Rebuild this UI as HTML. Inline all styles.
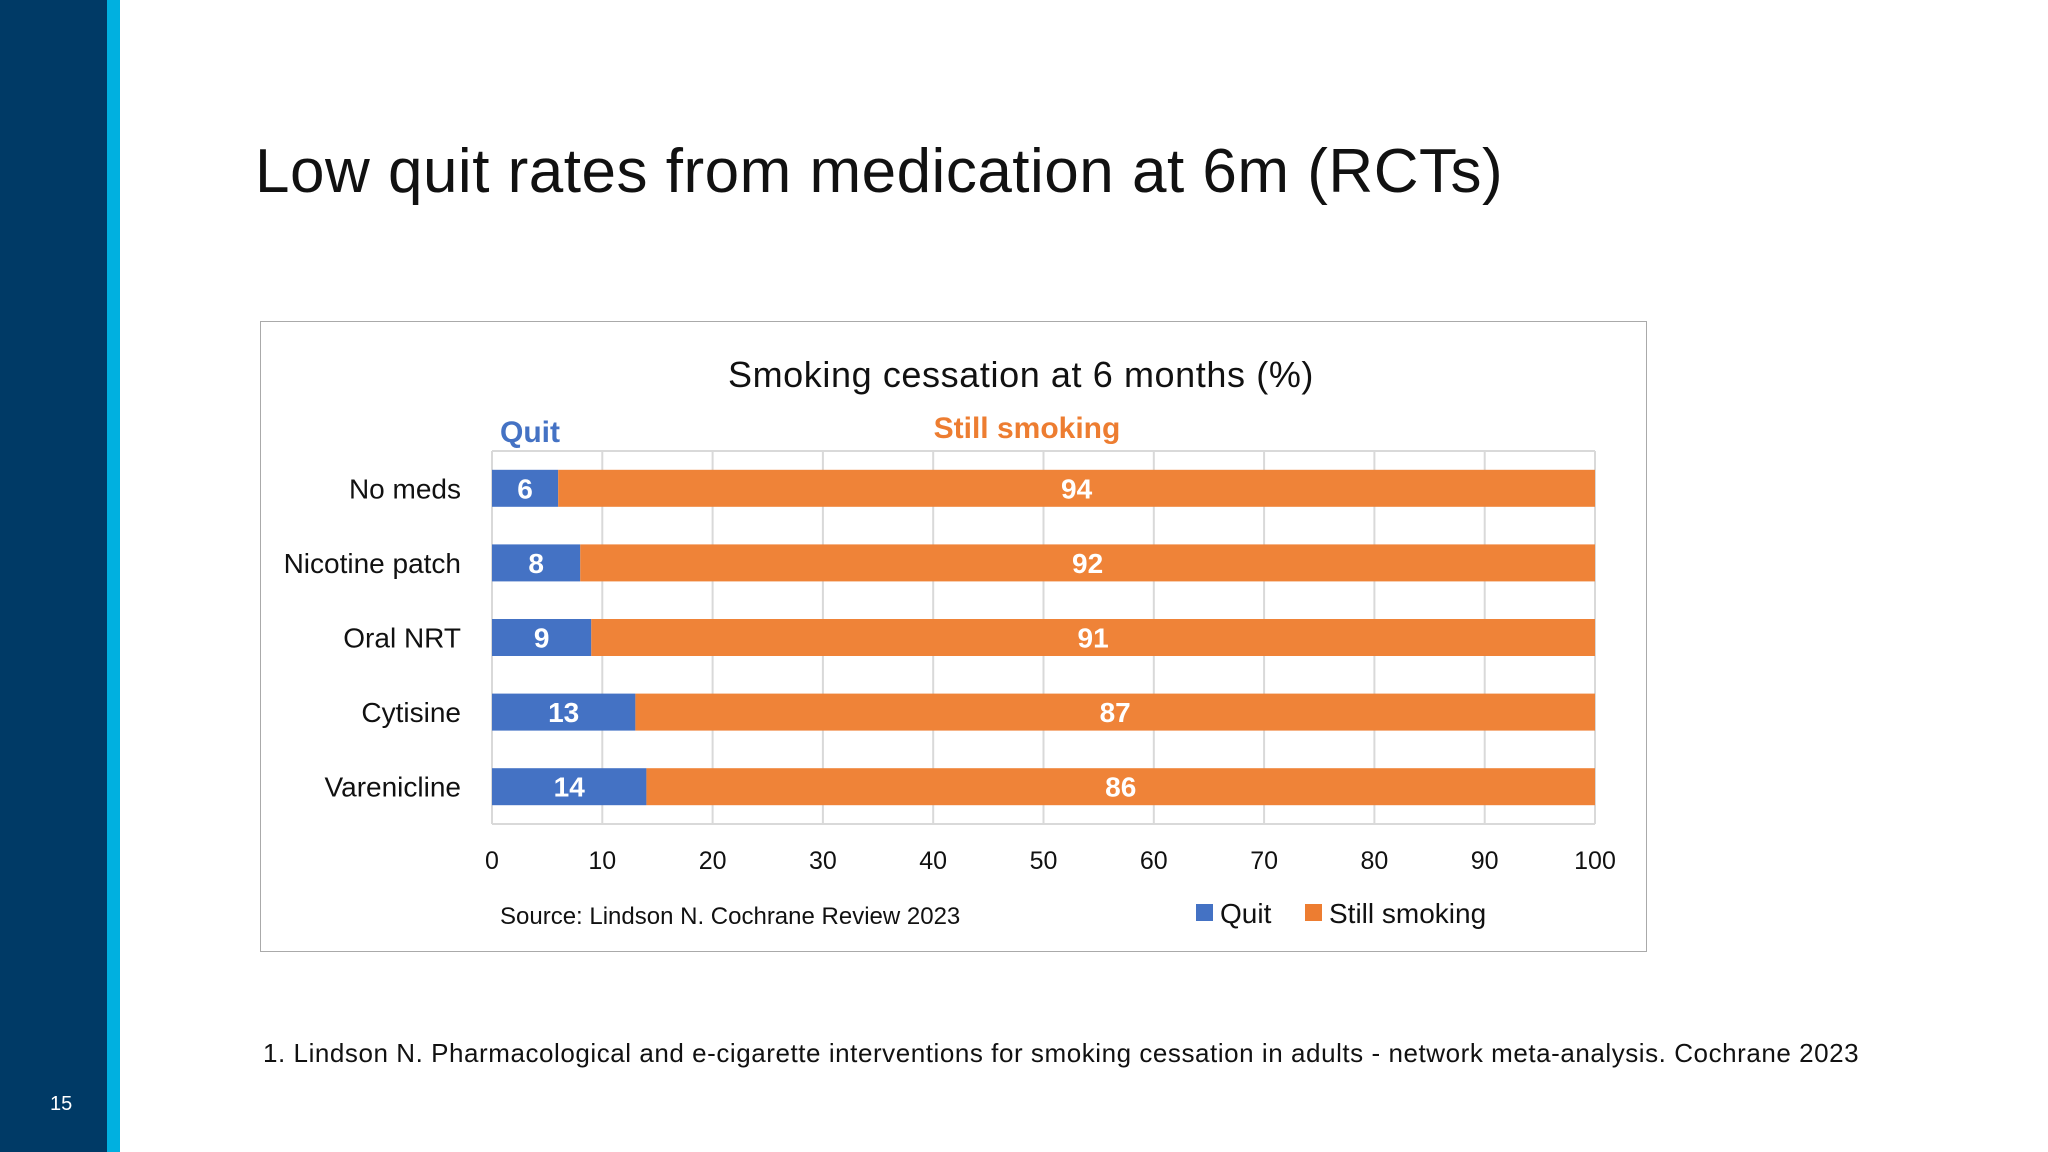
<!DOCTYPE html>
<html><head><meta charset="utf-8"><style>
body{margin:0;width:2048px;height:1152px;background:#fff;position:relative;overflow:hidden;font-family:"Liberation Sans",sans-serif;}
.abs{position:absolute;white-space:nowrap;}
</style></head><body>
<div class="abs" style="left:0;top:0;width:107px;height:1152px;background:#003a66"></div>
<div class="abs" style="left:107px;top:0;width:13px;height:1152px;background:#00b0e0"></div>
<div class="abs" style="left:50px;top:1093px;font-size:20px;color:#fff">15</div>
<div class="abs" style="left:255px;top:136px;font-size:62px;color:#111;letter-spacing:0.5px">Low quit rates from medication at 6m (RCTs)</div>
<div class="abs" style="left:260px;top:321px;width:1385px;height:629px;border:1.5px solid #aaa"></div>
<div class="abs" style="left:263px;top:1038px;font-size:26px;color:#111;letter-spacing:0.55px">1. Lindson N. Pharmacological and e-cigarette interventions for smoking cessation in adults - network meta-analysis. Cochrane 2023</div>
<svg class="abs" style="left:0;top:0" width="2048" height="1152" id="chart">
<text x="1021" y="387" text-anchor="middle" font-size="36" fill="#111" letter-spacing="0.6">Smoking cessation at 6 months (%)</text>
<text x="500" y="442" font-size="30" font-weight="bold" fill="#4472c4">Quit</text>
<text x="1027" y="438" text-anchor="middle" font-size="30" font-weight="bold" fill="#ed7d31">Still smoking</text>
<text x="500" y="924" font-size="24" fill="#111">Source: Lindson N. Cochrane Review 2023</text>
<rect x="1196" y="904" width="17" height="17" fill="#4472c4"/>
<text x="1220" y="923" font-size="28" fill="#111">Quit</text>
<rect x="1305" y="904" width="17" height="17" fill="#ed7d31"/>
<text x="1329" y="923" font-size="28" fill="#111">Still smoking</text>
<g id="plot"></g>
</svg>
<script>
const categories=["No meds","Nicotine patch","Oral NRT","Cytisine","Varenicline"];
const quit=[6,8,9,13,14];
const still=[94,92,91,87,86];
const ticks=[0,10,20,30,40,50,60,70,80,90,100];
const X0=492,X1=1595,Y0=451,Y1=824;
const x=v=>X0+(X1-X0)*v/100;
const pitch=(Y1-Y0)/categories.length;
const yc=i=>Y0+pitch*(i+0.5);
const g=document.getElementById('plot');
const NS="http://www.w3.org/2000/svg";
function mk(t,a){const e=document.createElementNS(NS,t);for(const k in a)e.setAttribute(k,a[k]);g.appendChild(e);return e;}
ticks.forEach(t=>{
 const l=mk('line',{x1:x(t),x2:x(t),y1:Y0,y2:Y1,stroke:'#d9d9d9','stroke-width':2});
 
 
 const tx=mk('text',{x:x(t),y:869,'text-anchor':'middle','font-size':25,fill:'#111'});
 tx.textContent=t;
 
 
});
const bl=mk('line',{x1:X0,x2:X1,y1:Y0,y2:Y0,stroke:'#d9d9d9','stroke-width':2});


const bb=mk('line',{x1:X0,x2:X1,y1:Y1,y2:Y1,stroke:'#d9d9d9','stroke-width':2});


const H=37;
categories.forEach((c,i)=>{
 const y=yc(i);
 const lab=mk('text',{x:461,y:y+10,'text-anchor':'end','font-size':28,fill:'#111'});
 lab.textContent=c;
 
 
 const r1=mk('rect',{x:x(0),y:y-H/2,width:x(quit[i])-x(0),height:H,fill:'#4472c4'});
 
 
 const r2=mk('rect',{x:x(quit[i]),y:y-H/2,width:x(quit[i]+still[i])-x(quit[i]),height:H,fill:'#ef8338'});
 
 
 const t1=mk('text',{x:(x(0)+x(quit[i]))/2,y:y+10,'text-anchor':'middle','font-size':28,'font-weight':'bold',fill:'#fff'});
 t1.textContent=quit[i];
 
 
 const t2=mk('text',{x:(x(quit[i])+x(quit[i]+still[i]))/2,y:y+10,'text-anchor':'middle','font-size':28,'font-weight':'bold',fill:'#fff'});
 t2.textContent=still[i];
 
 
});
</script>
</body></html>
